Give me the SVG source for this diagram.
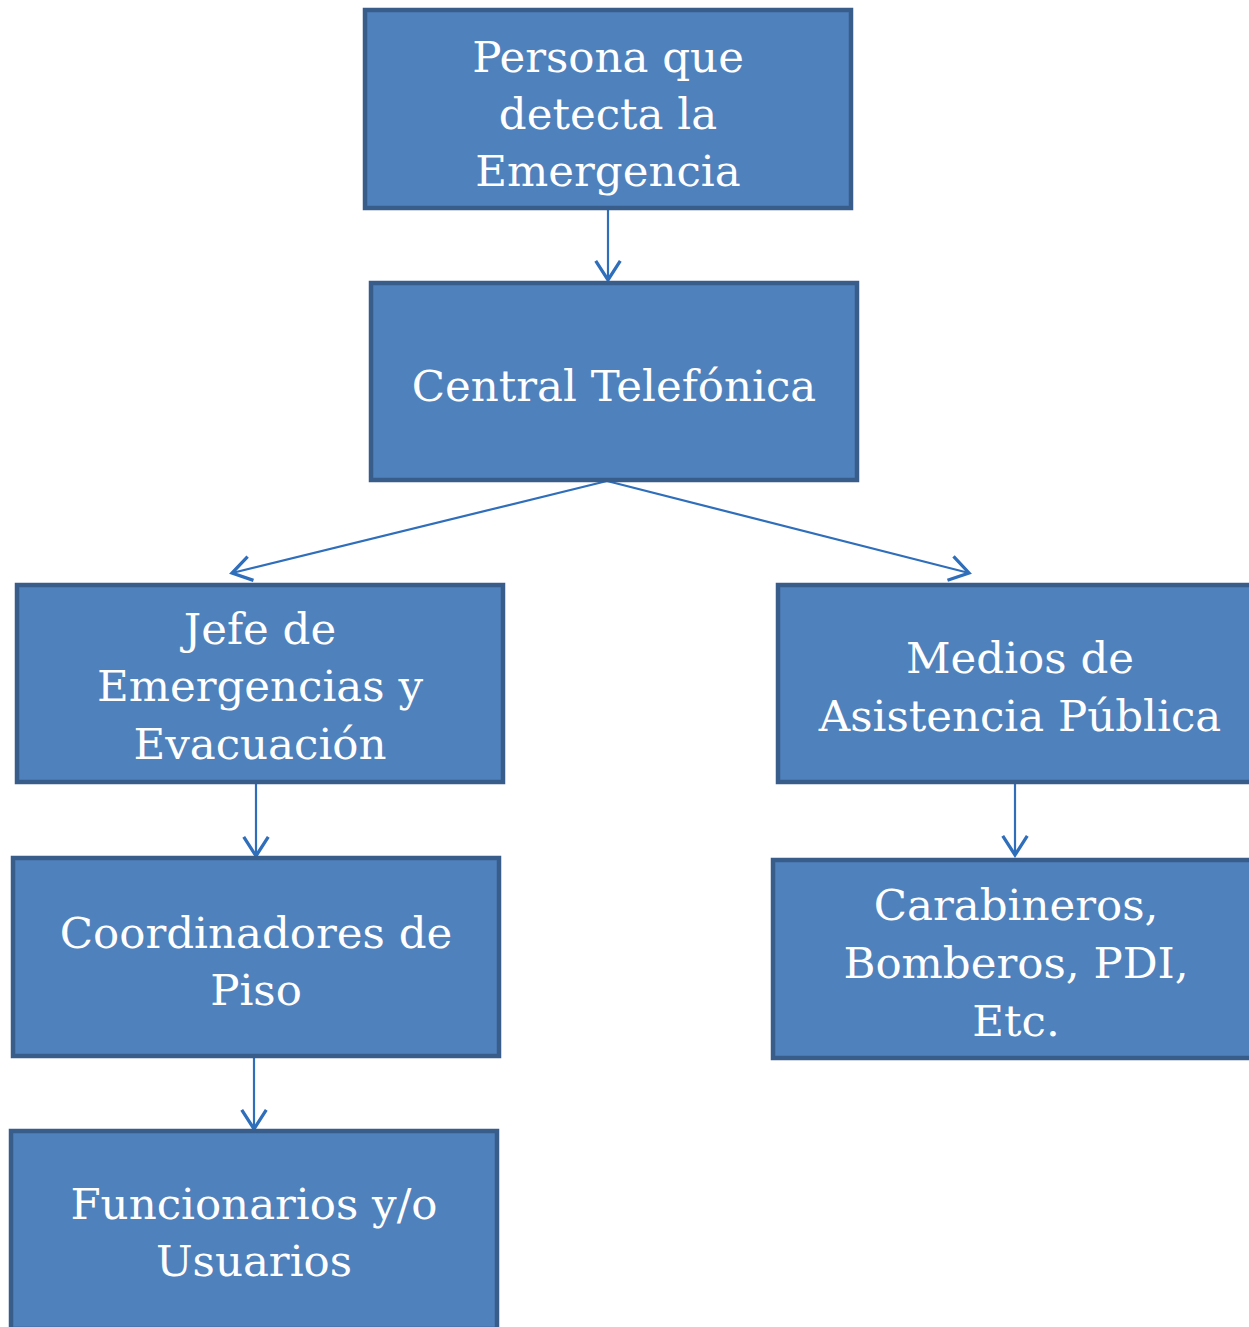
<svg xmlns="http://www.w3.org/2000/svg" width="1249" height="1327" viewBox="0 0 1249 1327">
<style>
.box{fill:#4F81BD;stroke:#385D8A;stroke-width:4.5}
.lbl{font-family:"DejaVu Serif","Liberation Serif",serif;font-size:43.5px;fill:#FFFFFF;text-anchor:middle}
.con{stroke:#2F6EBA;stroke-width:2.2;fill:none}
</style>
<defs>
<marker id="arr" markerUnits="userSpaceOnUse" markerWidth="30" markerHeight="30" viewBox="-16 -11 18 22" refX="0" refY="0" orient="auto">
<path d="M-14,-9 L0,0 L-14,9" fill="none" stroke="#2F6EBA" stroke-width="2.4"/>
</marker>
</defs>
<rect width="1249" height="1327" fill="#FFFFFF"/>
<g id="connectors">
<line class="con" x1="608" y1="210" x2="608" y2="280" marker-end="url(#arr)"/>
<line class="con" x1="607" y1="481" x2="232" y2="573" marker-end="url(#arr)"/>
<line class="con" x1="607" y1="481" x2="969" y2="573" marker-end="url(#arr)"/>
<line class="con" x1="256" y1="784" x2="256" y2="856" marker-end="url(#arr)"/>
<line class="con" x1="1015" y1="784" x2="1015" y2="855" marker-end="url(#arr)"/>
<line class="con" x1="254" y1="1058" x2="254" y2="1129" marker-end="url(#arr)"/>
</g>
<g id="n1"><rect class="box" x="365" y="10" width="486" height="198"/>
<text class="lbl"><tspan x="608" y="72">Persona que</tspan><tspan x="608" y="129">detecta la</tspan><tspan x="608" y="186">Emergencia</tspan></text></g>
<g id="n2"><rect class="box" x="371" y="283" width="486" height="197"/>
<text class="lbl" x="614" y="401">Central Telefónica</text></g>
<g id="n3"><rect class="box" x="17" y="585" width="486" height="197"/>
<text class="lbl"><tspan x="260" y="644">Jefe de</tspan><tspan x="260" y="701">Emergencias y</tspan><tspan x="260" y="759">Evacuación</tspan></text></g>
<g id="n4"><rect class="box" x="778" y="585" width="486" height="197"/>
<text class="lbl"><tspan x="1020" y="673">Medios de</tspan><tspan x="1020" y="731">Asistencia Pública</tspan></text></g>
<g id="n5"><rect class="box" x="13" y="858" width="486" height="198"/>
<text class="lbl"><tspan x="256" y="948">Coordinadores de</tspan><tspan x="256" y="1005">Piso</tspan></text></g>
<g id="n6"><rect class="box" x="773" y="860" width="486" height="198"/>
<text class="lbl"><tspan x="1016" y="920">Carabineros,</tspan><tspan x="1016" y="978">Bomberos, PDI,</tspan><tspan x="1016" y="1036">Etc.</tspan></text></g>
<g id="n7"><rect class="box" x="11" y="1131" width="486" height="198"/>
<text class="lbl"><tspan x="254" y="1219">Funcionarios y/o</tspan><tspan x="254" y="1276">Usuarios</tspan></text></g>
</svg>
